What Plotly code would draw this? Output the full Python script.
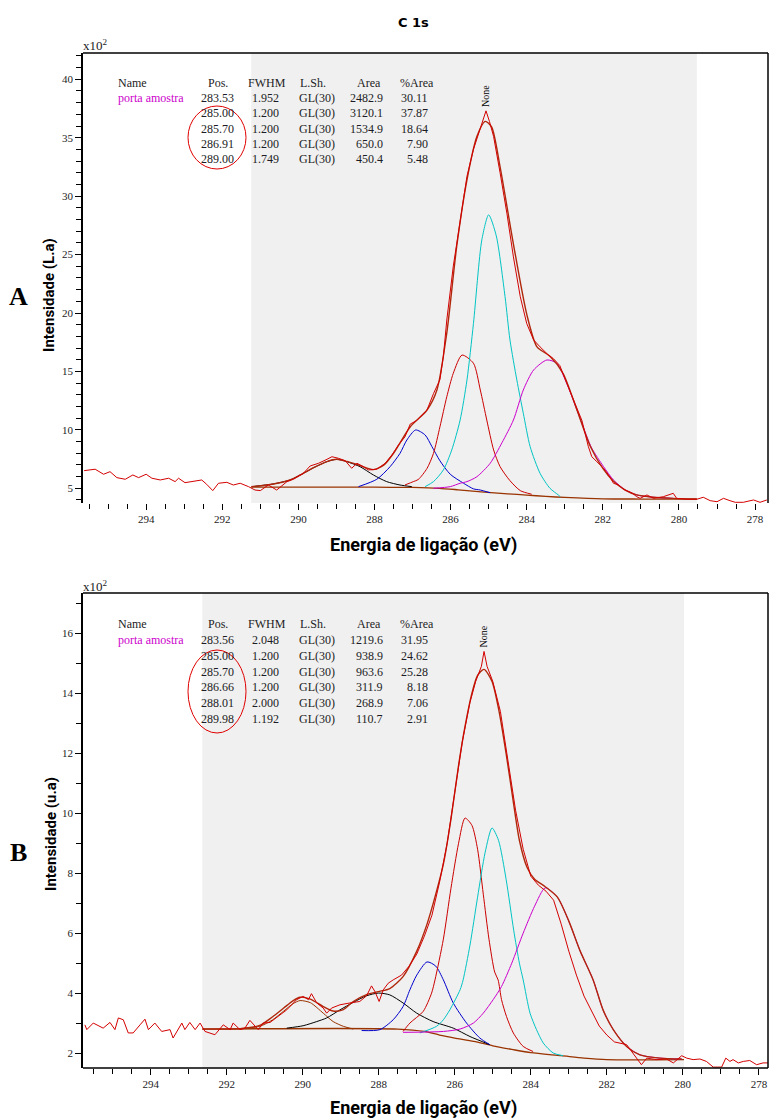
import plotly.graph_objects as go

W, H = 770, 1119

# ---------------- Panel A : C 1s, sample A ----------------
A_RAW = [(295.63, 6.51), (295.34, 6.63), (295.12, 6.20), (294.95, 6.42), (294.77, 5.91), (294.55, 5.77),
         (294.35, 6.14), (294.20, 5.91), (294.00, 6.20), (293.85, 5.86), (293.63, 5.71), (293.41, 5.86),
         (293.24, 5.57), (293.15, 5.86), (292.98, 5.48), (292.76, 5.57), (292.54, 5.71), (292.41, 5.34),
         (292.25, 4.80), (292.10, 5.43), (291.88, 5.51), (291.71, 5.28), (291.53, 5.43), (291.31, 5.14),
         (291.14, 4.85), (291.00, 4.80), (290.79, 5.28), (290.57, 4.85), (290.30, 5.57), (290.13, 5.77),
         (289.87, 6.28), (289.69, 6.91), (289.47, 7.14), (289.25, 7.48), (289.12, 7.70), (288.95, 7.57),
         (288.77, 7.36), (288.60, 6.71), (288.46, 7.14), (288.33, 6.91), (288.16, 6.57), (287.94, 6.63),
         (287.72, 7.14), (287.54, 7.85), (287.37, 8.71), (287.20, 9.40), (287.06, 10.5), (286.89, 10.8),
         (286.62, 11.7), (286.45, 13.1), (286.28, 14.3), (286.19, 16.3), (286.10, 19.4), (285.93, 24.0),
         (285.75, 28.0), (285.57, 31.7), (285.40, 34.0), (285.22, 35.7), (285.07, 37.3), (284.98, 36.4),
         (284.87, 35.1), (284.70, 32.0), (284.52, 28.5), (284.35, 24.8), (284.17, 21.4), (284.00, 19.1),
         (283.82, 17.7), (283.65, 17.1), (283.43, 16.4), (283.30, 16.1), (283.13, 15.5), (282.95, 14.0),
         (282.77, 12.6), (282.55, 10.8), (282.38, 8.56), (282.29, 7.70), (282.16, 7.28), (281.98, 6.71),
         (281.85, 6.14), (281.72, 5.43), (281.59, 5.28), (281.46, 4.91), (281.24, 4.62), (281.11, 4.28),
         (281.02, 4.14), (280.84, 4.43), (280.67, 4.14), (280.41, 4.28), (280.15, 4.57), (280.06, 4.14),
         (279.79, 4.06), (279.53, 4.06), (279.36, 4.23), (279.18, 3.94), (279.00, 3.85), (278.83, 4.14),
         (278.66, 3.94), (278.52, 3.80), (278.31, 3.80), (278.04, 4.00), (277.87, 3.80), (277.69, 4.00)]

A_ENVELOPE = [(291.24, 5.14), (290.66, 5.37), (290.22, 5.71), (289.95, 6.14), (289.60, 6.76), (289.25, 7.28),
              (288.99, 7.48), (288.73, 7.30), (288.38, 6.95), (288.03, 6.60), (287.75, 7.0), (287.50, 8.0),
              (287.06, 10.27), (286.62, 11.70), (286.36, 13.41), (286.10, 18.3), (285.84, 25.7),
              (285.57, 31.4), (285.31, 35.1), (285.09, 36.4), (284.92, 35.9), (284.70, 32.5), (284.35, 25.9),
              (284.00, 19.9), (283.73, 17.1), (283.39, 16.3), (283.04, 14.8), (282.68, 11.7), (282.33, 8.6),
              (282.00, 6.7), (281.72, 5.6), (281.41, 4.85), (281.11, 4.43), (280.67, 4.23), (280.15, 4.14),
              (279.53, 4.08)]

A_BACKGROUND = [(291.24, 5.09), (288.0, 5.09), (287.0, 5.07), (286.3, 5.0), (285.8, 4.87), (285.2, 4.70),
                (284.5, 4.52), (284.0, 4.42), (283.5, 4.30), (283.0, 4.22), (282.0, 4.10), (281.0, 4.08),
                (279.53, 4.07)]

A_PEAK_289 = [(291.22, 5.14), (290.66, 5.37), (290.22, 5.71), (289.95, 6.14), (289.60, 6.76), (289.25, 7.28),
              (288.99, 7.48), (288.73, 7.28), (288.38, 6.85), (288.03, 6.14), (287.68, 5.57), (287.33, 5.28),
              (287.02, 5.14)]
A_PEAK_2869 = [(288.42, 5.14), (287.94, 5.77), (287.59, 6.85), (287.33, 7.99), (287.15, 9.13), (286.92, 9.99),
               (286.67, 9.56), (286.49, 8.56), (286.28, 7.35), (286.01, 6.20), (285.66, 5.43), (285.40, 4.95),
               (285.22, 4.85), (284.96, 4.62)]
A_PEAK_2857 = [(287.20, 5.28), (286.98, 5.57), (286.85, 5.75), (286.62, 6.70), (286.45, 7.99), (286.28, 10.27),
               (286.10, 12.84), (285.93, 14.84), (285.70, 16.40), (285.40, 15.70), (285.22, 13.41),
               (285.05, 10.84), (284.87, 8.28), (284.70, 6.85), (284.44, 5.65), (284.17, 4.80), (283.87, 4.49)]
A_PEAK_285 = [(286.67, 5.14), (286.45, 5.57), (286.19, 6.57), (285.97, 8.28), (285.75, 10.84), (285.57, 14.27),
              (285.40, 19.10), (285.18, 26.25), (285.00, 28.40), (284.80, 26.6), (284.57, 21.40),
              (284.44, 17.69), (284.26, 14.27), (284.09, 11.42), (283.91, 8.56), (283.65, 6.28), (283.39, 5.00),
              (283.17, 4.43), (283.12, 4.28)]
A_PEAK_2835 = [(286.45, 5.0), (286.01, 5.14), (285.75, 5.43), (285.57, 5.57), (285.31, 5.99), (284.96, 7.14),
               (284.65, 8.9), (284.35, 10.84), (284.09, 13.41), (283.82, 15.12), (283.47, 15.98),
               (283.21, 15.70), (282.95, 13.98), (282.68, 11.70), (282.42, 9.42), (282.29, 8.42),
               (281.98, 6.85), (281.72, 5.71), (281.41, 4.85), (281.11, 4.43), (280.67, 4.23), (280.15, 4.14)]

A_NAME = ["porta amostra", "", "", "", ""]
A_POS = ["283.53", "285.00", "285.70", "286.91", "289.00"]
A_FWHM = ["1.952", "1.200", "1.200", "1.200", "1.749"]
A_LSH = ["GL(30)", "GL(30)", "GL(30)", "GL(30)", "GL(30)"]
A_AREA = ["2482.9", "3120.1", "1534.9", "650.0", "450.4"]
A_PCT = ["30.11", "37.87", "18.64", "7.90", "5.48"]

# ---------------- Panel B : C 1s, sample B ----------------
B_RAW = [(295.73, 2.94), (295.68, 2.78), (295.51, 3.00), (295.25, 2.83), (295.07, 3.02), (294.94, 2.78),
         (294.85, 3.17), (294.72, 3.11), (294.59, 2.67), (294.46, 2.67), (294.28, 2.94), (294.15, 3.13),
         (294.06, 2.78), (293.89, 3.00), (293.71, 2.72), (293.49, 2.78), (293.41, 2.50), (293.27, 2.78),
         (293.18, 3.00), (293.10, 2.78), (292.97, 3.02), (292.83, 2.78), (292.70, 3.00), (292.57, 2.72),
         (292.31, 2.61), (292.09, 2.94), (291.91, 2.78), (291.83, 3.00), (291.65, 2.78), (291.52, 2.83),
         (291.39, 3.09), (291.17, 2.78), (291.04, 3.00), (290.86, 3.02), (290.64, 3.24), (290.42, 3.44),
         (290.29, 3.61), (290.16, 3.78), (289.99, 3.89), (289.85, 3.78), (289.77, 3.98), (289.63, 3.67),
         (289.46, 3.50), (289.37, 3.33), (289.24, 3.50), (289.02, 3.61), (288.76, 3.67), (288.50, 3.72),
         (288.32, 3.91), (288.19, 4.24), (288.10, 4.05), (287.99, 3.72), (287.88, 4.11), (287.75, 4.33),
         (287.62, 4.44), (287.40, 4.6), (287.20, 4.9), (287.00, 5.3), (286.80, 5.9), (286.60, 6.6),
         (286.40, 7.7), (286.20, 9.0), (286.00, 10.7), (285.80, 12.4), (285.60, 13.7), (285.45, 14.4),
         (285.30, 14.9), (285.23, 15.4), (285.15, 14.9), (285.00, 14.4), (284.80, 13.4), (284.60, 11.8),
         (284.40, 10.1), (284.20, 8.8), (284.00, 7.9), (283.80, 7.6), (283.60, 7.4), (283.40, 7.1),
         (283.20, 6.3), (283.00, 5.4), (282.80, 4.6), (282.60, 3.9), (282.40, 3.4), (282.20, 2.9),
         (282.00, 2.6), (281.80, 2.37), (281.48, 2.28), (281.22, 1.83), (281.09, 1.61), (280.95, 1.83),
         (280.69, 1.78), (280.43, 1.80), (280.25, 1.67), (280.03, 1.91), (279.90, 1.83), (279.73, 1.78),
         (279.55, 1.80), (279.38, 1.72), (279.20, 1.53), (278.98, 1.53), (278.87, 1.83), (278.76, 1.72),
         (278.68, 1.78), (278.54, 1.67), (278.41, 1.72), (278.24, 1.75), (278.06, 1.61), (277.89, 1.67),
         (277.76, 1.67)]

B_ENVELOPE = [(292.64, 2.80), (291.6, 2.82), (291.13, 2.92), (290.8, 3.2), (290.5, 3.5), (290.25, 3.75),
              (290.07, 3.86), (289.8, 3.8), (289.46, 3.55), (289.2, 3.4), (288.93, 3.45), (288.67, 3.72),
              (288.32, 3.95), (288.01, 4.05), (287.71, 4.15), (287.36, 4.55), (287.0, 5.4), (286.73, 6.3),
              (286.5, 7.3), (286.3, 8.3), (286.1, 9.8), (285.9, 11.6), (285.73, 12.9), (285.55, 14.0),
              (285.4, 14.6), (285.23, 14.8), (285.02, 14.4), (284.85, 13.5), (284.65, 12.0), (284.45, 10.3),
              (284.3, 9.1), (284.1, 8.2), (283.9, 7.8), (283.62, 7.55), (283.3, 7.2), (283.0, 6.4),
              (282.7, 5.4), (282.36, 4.44), (282.10, 3.44), (281.83, 2.78), (281.48, 2.22), (281.13, 1.94),
              (280.60, 1.83), (280.03, 1.80)]

B_BACKGROUND = [(292.64, 2.80), (287.5, 2.80), (286.8, 2.72), (286.4, 2.60), (286.0, 2.50), (285.5, 2.39),
                (285.0, 2.24), (284.5, 2.12), (284.0, 2.01), (283.2, 1.91), (282.6, 1.83), (282.0, 1.78),
                (279.97, 1.78)]

B_PEAK_290 = [(291.6, 2.82), (291.13, 2.89), (290.8, 3.10), (290.5, 3.40), (290.25, 3.65), (290.07, 3.75),
              (289.8, 3.68), (289.46, 3.33), (289.2, 3.05), (288.93, 2.89), (288.67, 2.80)]
B_PEAK_288 = [(290.42, 2.83), (289.99, 2.91), (289.63, 3.05), (289.37, 3.17), (289.02, 3.44), (288.67, 3.69),
              (288.32, 3.91), (288.01, 4.00), (287.71, 3.94), (287.36, 3.67), (287.00, 3.33), (286.57, 3.05),
              (286.04, 2.83), (285.60, 2.55), (285.08, 2.28)]
B_PEAK_2867 = [(288.45, 2.75), (287.97, 2.78), (287.62, 3.11), (287.36, 3.55), (287.18, 4.11), (287.0, 4.6),
               (286.73, 5.04), (286.5, 4.9), (286.30, 4.44), (286.04, 3.67), (285.69, 3.0), (285.34, 2.5),
               (285.08, 2.28)]
B_PEAK_2857 = [(287.36, 2.72), (287.18, 3.0), (286.83, 3.39), (286.61, 4.0), (286.52, 4.44), (286.3, 5.8),
               (286.1, 7.5), (285.9, 9.0), (285.73, 9.84), (285.55, 9.6), (285.4, 8.8), (285.25, 7.3),
               (285.1, 5.8), (284.95, 4.7), (284.86, 4.44), (284.77, 3.78), (284.64, 3.22), (284.46, 2.67),
               (284.20, 2.22), (283.94, 2.05)]
B_PEAK_285 = [(286.92, 2.67), (286.48, 2.89), (286.30, 3.11), (286.13, 3.44), (285.86, 4.11), (285.78, 4.44),
              (285.6, 5.6), (285.4, 7.2), (285.2, 8.7), (285.02, 9.51), (284.85, 9.1), (284.65, 7.8),
              (284.45, 6.1), (284.3, 5.0), (284.20, 4.44), (284.02, 3.33), (283.85, 2.78), (283.67, 2.33),
              (283.41, 2.0), (283.15, 1.91)]
B_PEAK_2836 = [(287.36, 2.69), (286.30, 2.72), (285.86, 2.80), (285.51, 3.0), (285.25, 3.33), (284.99, 3.78),
               (284.77, 4.22), (284.5, 5.0), (284.2, 6.0), (283.9, 6.9), (283.62, 7.51), (283.3, 7.2),
               (283.0, 6.4), (282.7, 5.4), (282.36, 4.44), (282.10, 3.44), (281.83, 2.78), (281.48, 2.22),
               (281.13, 1.94), (280.60, 1.83), (280.03, 1.80)]

B_NAME = ["porta amostra", "", "", "", "", ""]
B_POS = ["283.56", "285.00", "285.70", "286.66", "288.01", "289.98"]
B_FWHM = ["2.048", "1.200", "1.200", "1.200", "2.000", "1.192"]
B_LSH = ["GL(30)", "GL(30)", "GL(30)", "GL(30)", "GL(30)", "GL(30)"]
B_AREA = ["1219.6", "938.9", "963.6", "311.9", "268.9", "110.7"]
B_PCT = ["31.95", "24.62", "25.28", "8.18", "7.06", "2.91"]

# fitting regions (grey band) and axis ranges
A_REGION = (291.24, 279.53)
B_REGION = (292.64, 279.97)
A_XRANGE, A_YRANGE = (295.66, 277.66), (3.74, 42.25)
B_XRANGE, B_YRANGE = (295.78, 277.76), (1.5, 17.35)

# ---------------- styling ----------------
RAW_C = "#d40000"
ENV_C = "#b0280c"
BG_C = "#993300"
COL_2835 = "#cc00cc"
COL_285 = "#00c4c4"
COL_2857 = "#cc0000"
COL_2867 = "#0000cc"
COL_288 = "#000000"
COL_290 = "#993300"

SERIF = "Liberation Serif, Times New Roman, serif"
TITLE_FONT = "Liberation Sans Narrow, Roboto, DejaVu Sans, sans-serif"
TXT = "#1c1c24"

fig = go.Figure()


def add_curve(points, color, width, xa, ya, shape="spline"):
    xs = [p[0] for p in points]
    ys = [p[1] for p in points]
    fig.add_trace(go.Scatter(x=xs, y=ys, mode="lines", xaxis=xa, yaxis=ya,
                             line=dict(color=color, width=width, shape=shape,
                                       smoothing=0.7 if shape == "spline" else None),
                             hoverinfo="skip", showlegend=False))


# panel A curves
add_curve(A_BACKGROUND, BG_C, 1.3, "x", "y")
add_curve(A_PEAK_289, COL_288, 1, "x", "y")
add_curve(A_PEAK_2869, COL_2867, 1, "x", "y")
add_curve(A_PEAK_2857, COL_2857, 1, "x", "y")
add_curve(A_PEAK_285, COL_285, 1, "x", "y")
add_curve(A_PEAK_2835, COL_2835, 1, "x", "y")
add_curve(A_ENVELOPE, ENV_C, 1.4, "x", "y")
add_curve(A_RAW, RAW_C, 1, "x", "y", shape="linear")

# panel B curves
add_curve(B_BACKGROUND, BG_C, 1.3, "x2", "y2")
add_curve(B_PEAK_290, COL_290, 1, "x2", "y2")
add_curve(B_PEAK_288, COL_288, 1, "x2", "y2")
add_curve(B_PEAK_2867, COL_2867, 1, "x2", "y2")
add_curve(B_PEAK_2857, COL_2857, 1, "x2", "y2")
add_curve(B_PEAK_285, COL_285, 1, "x2", "y2")
add_curve(B_PEAK_2836, COL_2835, 1, "x2", "y2")
add_curve(B_ENVELOPE, ENV_C, 1.4, "x2", "y2")
add_curve(B_RAW, RAW_C, 1, "x2", "y2", shape="linear")


def px(x):
    return x / W


def py(y):
    return 1 - y / H


tick_font = dict(family=SERIF, size=11, color=TXT)


def xaxis_cfg(rng):
    return dict(domain=[px(83), px(768)], range=list(rng), tick0=0, dtick=2,
                ticks="outside", ticklen=6, tickwidth=1, tickcolor="#000",
                minor=dict(dtick=0.5, ticks="outside", ticklen=5, tickcolor="#000"),
                showgrid=False, zeroline=False, showline=False, tickfont=tick_font,
                fixedrange=True)


def yaxis_cfg(rng, top, bottom, dtick, anchor):
    return dict(domain=[py(bottom), py(top)], range=list(rng), tick0=0, dtick=dtick,
                ticks="outside", ticklen=6, tickwidth=1, tickcolor="#000",
                minor=dict(dtick=1, ticks="outside", ticklen=5, tickcolor="#000"),
                showgrid=False, zeroline=False, showline=True, linecolor="#000", linewidth=1.5,
                tickfont=tick_font, anchor=anchor, fixedrange=True)


A_TOP, A_BOTTOM = 53, 503
B_TOP, B_BOTTOM = 593, 1068

layout = dict(
    width=W, height=H, margin=dict(l=0, r=0, t=0, b=0),
    paper_bgcolor="white", plot_bgcolor="white", showlegend=False,
    xaxis=dict(**xaxis_cfg(A_XRANGE), anchor="y"),
    yaxis=yaxis_cfg(A_YRANGE, A_TOP, A_BOTTOM, 5, "x"),
    xaxis2=dict(**xaxis_cfg(B_XRANGE), anchor="y2"),
    yaxis2=yaxis_cfg(B_YRANGE, B_TOP, B_BOTTOM, 2, "x2"),
)
fig.update_layout(**layout)

shapes = []
# grey fitting regions
shapes.append(dict(type="rect", xref="x", yref="y domain", x0=A_REGION[0], x1=A_REGION[1], y0=0, y1=1,
                   fillcolor="#f0f0f0", line=dict(width=0), layer="below"))
shapes.append(dict(type="rect", xref="x2", yref="y2 domain", x0=B_REGION[0], x1=B_REGION[1], y0=0, y1=1,
                   fillcolor="#f0f0f0", line=dict(width=0), layer="below"))
# frames
for xr, yr, sides in (("x domain", "y domain", ("top", "right")),
                      ("x2 domain", "y2 domain", ("top", "right", "bottom"))):
    for s in sides:
        if s == "top":
            c = dict(x0=0, x1=1, y0=1, y1=1)
        elif s == "bottom":
            c = dict(x0=0, x1=1, y0=0, y1=0)
        else:
            c = dict(x0=1, x1=1, y0=0, y1=1)
        shapes.append(dict(type="line", xref=xr, yref=yr, line=dict(color="#000", width=1.5), **c))
# circled positions in the tables
for (x0, x1, y0, y1) in ((188, 246, 106, 169), (188, 246, 650, 733)):
    shapes.append(dict(type="circle", xref="paper", yref="paper", x0=px(x0), x1=px(x1),
                       y0=py(y1), y1=py(y0), line=dict(color="#e00000", width=1)))
fig.update_layout(shapes=shapes)

ann = []


def text(x, y, s, size=12, family=SERIF, color=TXT, xanchor="center", yanchor="middle", angle=0,
         weight="normal"):
    ann.append(dict(x=px(x), y=py(y), xref="paper", yref="paper", text=s, showarrow=False,
                    xanchor=xanchor, yanchor=yanchor, textangle=angle,
                    font=dict(family=family, size=size, color=color, weight=weight)))


text(414, 23, "C 1s", size=13, family="DejaVu Sans, sans-serif", color="#000", weight="bold")


def table(y_head, y_rows, names, pos, fwhm, lsh, area, pct):
    text(116, y_head, "Name", xanchor="left")
    text(206, y_head, "Pos.", xanchor="left")
    text(246, y_head, "FWHM", xanchor="left")
    text(298, y_head, "L.Sh.", xanchor="left")
    text(355, y_head, "Area", xanchor="left")
    text(398, y_head, "%Area", xanchor="left")
    for i, yy in enumerate(y_rows):
        if names[i]:
            text(116, yy, names[i], color="#cc00cc", xanchor="left")
        text(236, yy, pos[i], xanchor="right")
        text(281, yy, fwhm[i], xanchor="right")
        text(297, yy, lsh[i], xanchor="left")
        text(385, yy, area[i], xanchor="right")
        text(430, yy, pct[i], xanchor="right")


table(83.5, [98.5 + 15 * i for i in range(5)], A_NAME, A_POS, A_FWHM, A_LSH, A_AREA, A_PCT)
table(623.5, [640 + 15.8 * i for i in range(6)], B_NAME, B_POS, B_FWHM, B_LSH, B_AREA, B_PCT)

# multiplier labels
text(81, 45, "x10<sup>2</sup>", size=13, xanchor="left")
text(81, 586, "x10<sup>2</sup>", size=13, xanchor="left")

# peak marker labels
text(485, 96, "None", size=10, angle=-90, color="#000")
text(482.5, 637, "None", size=10, angle=-90, color="#000")

# panel letters
text(18, 297, "A", size=26, family=SERIF, color="#000", weight="bold")
text(18, 852, "B", size=26, family=SERIF, color="#000", weight="bold")

# axis titles
text(49, 295, "Intensidade (L.a)", size=15, family=TITLE_FONT, color="#000", angle=-90, weight="bold")
text(51, 834, "Intensidade (u.a)", size=15, family=TITLE_FONT, color="#000", angle=-90, weight="bold")
text(424, 545, "Energia de ligação (eV)", size=18, family=TITLE_FONT, color="#000", weight="bold")
text(424, 1108, "Energia de ligação (eV)", size=18, family=TITLE_FONT, color="#000", weight="bold")

fig.update_layout(annotations=ann)

fig.write_html("out.html")
